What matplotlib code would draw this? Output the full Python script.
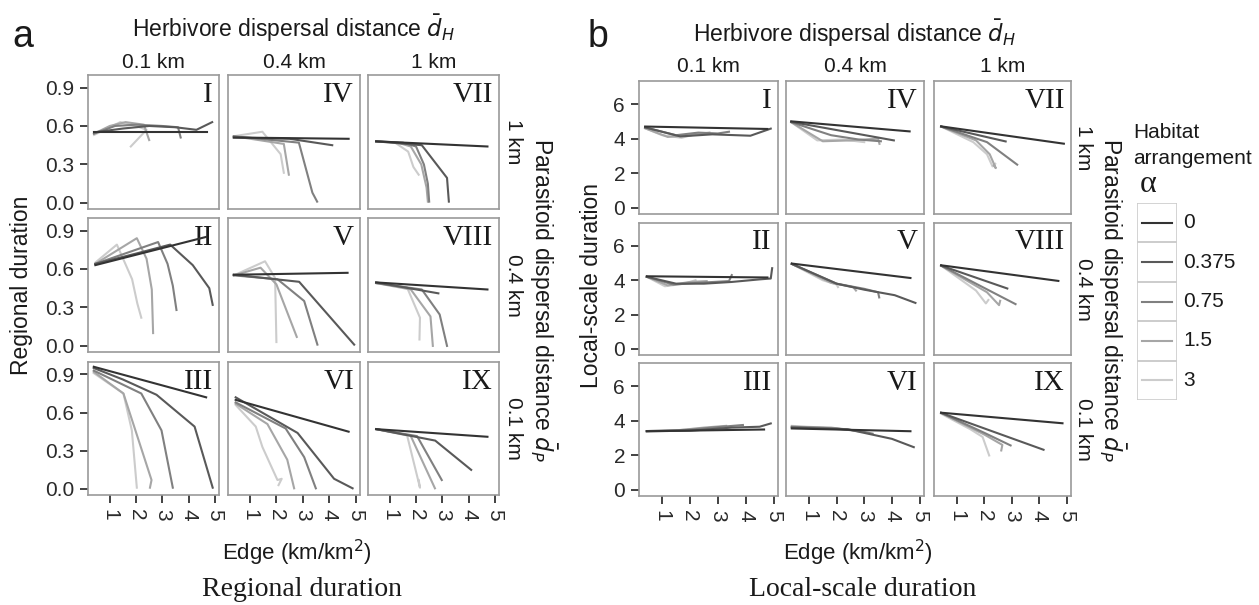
import matplotlib
matplotlib.use("Agg")
import matplotlib.pyplot as plt
from matplotlib.patches import Rectangle

# habitat arrangement levels and their grey shades
alpha_levels = ["0", "0.375", "0.75", "1.5", "3"]
alpha_colors = ["#333333", "#595959", "#808080", "#a6a6a6", "#cccccc"]

herb_labels = ["0.1 km", "0.4 km", "1 km"]
para_labels = ["1 km", "0.4 km", "0.1 km"]
numerals = ["I", "II", "III", "IV", "V", "VI", "VII", "VIII", "IX"]

# ---- regional duration (panel a); one list per alpha level ----
reg_I_x = [[0.4, 4.7], [0.4, 1.5, 2.5, 3.5, 4.3, 4.9], [0.4, 1.2, 2.0, 3.0, 3.6, 3.7],
           [0.4, 1.0, 1.6, 2.3, 2.5], [0.4, 1.4, 2.0, 2.4, 1.8]]
reg_I_y = [[0.55, 0.55], [0.55, 0.58, 0.60, 0.59, 0.57, 0.63], [0.54, 0.60, 0.61, 0.60, 0.59, 0.51],
           [0.54, 0.60, 0.63, 0.61, 0.49], [0.53, 0.63, 0.60, 0.57, 0.44]]
reg_II_x = [[0.45, 4.67], [0.45, 2.0, 3.3, 4.16, 4.79, 4.92], [0.45, 2.84, 3.2, 3.4, 3.54],
            [0.45, 2.03, 2.4, 2.6, 2.65], [0.45, 1.27, 1.85, 2.05, 2.2]]
reg_II_y = [[0.63, 0.85], [0.64, 0.72, 0.79, 0.63, 0.45, 0.32], [0.64, 0.81, 0.64, 0.47, 0.28],
            [0.64, 0.84, 0.68, 0.44, 0.10], [0.65, 0.79, 0.52, 0.33, 0.22]]
reg_III_x = [[0.39, 4.67], [0.39, 1.5, 2.78, 4.23, 4.92], [0.39, 2.2, 2.97, 3.4],
             [0.39, 1.52, 2.59, 2.53], [0.39, 1.52, 1.84, 2.03]]
reg_III_y = [[0.96, 0.72], [0.95, 0.86, 0.74, 0.49, 0.01], [0.93, 0.75, 0.46, 0.01],
             [0.92, 0.75, 0.07, 0.01], [0.91, 0.75, 0.46, 0.01]]
reg_IV_x = [[0.39, 4.73], [0.39, 2.5, 4.11], [0.39, 2.85, 3.36, 3.54],
            [0.39, 2.28, 2.47], [0.39, 1.47, 2.16, 2.28]]
reg_IV_y = [[0.51, 0.50], [0.51, 0.50, 0.45], [0.52, 0.47, 0.08, 0.01],
            [0.52, 0.46, 0.22], [0.52, 0.555, 0.38, 0.235]]
reg_V_x = [[0.39, 4.69], [0.39, 2.86, 4.94], [0.39, 2.04, 3.05, 3.55],
           [0.39, 1.4, 2.0, 2.77], [0.39, 1.57, 1.95, 2.0]]
reg_V_y = [[0.555, 0.57], [0.555, 0.50, 0.01], [0.55, 0.52, 0.35, 0.01],
           [0.55, 0.61, 0.48, 0.07], [0.55, 0.66, 0.53, 0.03]]
reg_VI_x = [[0.46, 4.73], [0.46, 2.8, 4.18, 4.88], [0.46, 2.35, 3.05, 3.49],
            [0.46, 1.66, 2.41, 2.67], [0.46, 1.22, 1.47, 2.04, 2.2, 2.08]]
reg_VI_y = [[0.70, 0.45], [0.72, 0.44, 0.08, 0.005], [0.68, 0.475, 0.25, 0.005],
            [0.67, 0.51, 0.23, 0.005], [0.66, 0.49, 0.33, 0.07, 0.08, 0.03]]
reg_VII_x = [[0.48, 4.72], [0.48, 2.22, 3.18, 3.25], [0.48, 1.5, 2.0, 2.3, 2.45, 2.5],
             [0.48, 1.3, 1.8, 2.2, 2.4, 2.45], [0.48, 1.2, 1.7, 1.9, 2.1]]
reg_VII_y = [[0.48, 0.44], [0.48, 0.45, 0.195, 0.01], [0.48, 0.47, 0.44, 0.30, 0.15, 0.01],
             [0.48, 0.47, 0.44, 0.30, 0.12, 0.01], [0.48, 0.47, 0.40, 0.28, 0.22]]
reg_VIII_x = [[0.48, 4.72], [0.48, 2.85], [0.48, 2.22, 2.9, 3.18],
              [0.48, 1.8, 2.55, 2.64], [0.48, 1.66, 2.15, 2.13]]
reg_VIII_y = [[0.495, 0.44], [0.495, 0.41], [0.49, 0.44, 0.245, 0.0],
              [0.49, 0.44, 0.23, 0.0], [0.49, 0.455, 0.22, 0.05]]
reg_IX_x = [[0.48, 4.72], [0.48, 2.73, 4.1], [0.48, 2.04, 2.98],
            [0.48, 1.79, 2.72], [0.48, 1.66, 2.15, 2.1]]
reg_IX_y = [[0.47, 0.41], [0.47, 0.38, 0.15], [0.47, 0.415, 0.07],
            [0.47, 0.42, 0.005], [0.47, 0.42, 0.01, 0.07]]

# ---- local-scale duration (panel b) ----
loc_I_x = [[0.39, 4.78], [0.39, 1.65, 2.8, 4.17, 4.9], [0.39, 1.5, 2.3, 3.0, 3.4],
           [0.39, 1.2, 2.0, 2.7], [0.39, 1.0, 1.7, 2.3]]
loc_I_y = [[4.7, 4.56], [4.65, 4.13, 4.25, 4.17, 4.58], [4.65, 4.2, 4.35, 4.3, 4.4],
           [4.6, 4.1, 4.2, 4.35], [4.6, 4.2, 4.05, 4.3]]
loc_II_x = [[0.45, 4.78], [0.45, 1.5, 2.5, 3.5, 4.5, 4.9, 4.95], [0.45, 1.4, 2.3, 3.4, 3.5],
            [0.45, 1.2, 2.0, 2.6], [0.45, 1.1, 1.8, 2.2]]
loc_II_y = [[4.23, 4.16], [4.2, 3.8, 3.8, 3.9, 4.05, 4.1, 4.7], [4.2, 3.75, 3.85, 3.95, 4.3],
            [4.2, 3.7, 3.9, 3.95], [4.2, 3.65, 3.8, 4.0]]
loc_III_x = [[0.45, 4.66], [0.45, 2.0, 3.5, 4.5, 4.9], [0.45, 1.8, 2.8, 3.9],
             [0.45, 1.6, 2.5, 3.3], [0.45, 1.2, 1.9, 2.4]]
loc_III_y = [[3.39, 3.49], [3.39, 3.42, 3.6, 3.65, 3.84], [3.4, 3.45, 3.6, 3.75],
             [3.4, 3.45, 3.6, 3.7], [3.4, 3.4, 3.5, 3.55]]
loc_IV_x = [[0.36, 4.64], [0.36, 4.07], [0.36, 1.8, 2.8, 3.6],
            [0.36, 1.5, 2.5, 3.5, 3.55], [0.36, 1.3, 2.2, 3.0]]
loc_IV_y = [[5.0, 4.42], [4.97, 3.9], [4.95, 4.2, 3.95, 3.85],
            [4.95, 3.85, 3.9, 4.0, 3.7], [4.95, 3.9, 3.95, 3.8]]
loc_V_x = [[0.38, 4.67], [0.38, 2.0, 3.0, 4.1, 4.85], [0.38, 2.0, 3.0, 3.5, 3.54],
           [0.38, 1.8, 2.6, 2.7], [0.38, 1.5, 2.0, 2.05]]
loc_V_y = [[4.97, 4.13], [4.95, 3.8, 3.45, 3.13, 2.68], [4.95, 3.8, 3.5, 3.3, 3.0],
           [4.95, 3.85, 3.6, 3.4], [4.95, 4.0, 3.75, 3.6]]
loc_VI_x = [[0.38, 4.67], [0.38, 2.4, 4.0, 4.79], [0.38, 2.0, 3.0, 3.3],
            [0.38, 1.8, 2.6, 2.9], [0.38, 1.5, 2.3, 2.6]]
loc_VI_y = [[3.55, 3.39], [3.6, 3.5, 2.95, 2.47], [3.65, 3.55, 3.35, 3.25],
            [3.65, 3.6, 3.45, 3.4], [3.7, 3.6, 3.5, 3.45]]
loc_VII_x = [[0.43, 4.9], [0.43, 2.78], [0.43, 2.1, 3.2],
             [0.43, 1.7, 2.2, 2.42, 2.35], [0.43, 1.6, 2.1, 2.3, 2.4]]
loc_VII_y = [[4.71, 3.71], [4.7, 3.84], [4.7, 3.8, 2.5],
             [4.7, 3.9, 3.1, 2.3, 2.45], [4.7, 3.8, 3.1, 2.4, 2.55]]
loc_VIII_x = [[0.43, 4.7], [0.43, 2.84], [0.43, 3.14],
              [0.43, 2.1, 2.54, 2.58], [0.43, 1.7, 2.06, 2.15]]
loc_VIII_y = [[4.87, 3.96], [4.85, 3.52], [4.85, 2.61],
              [4.85, 3.3, 2.55, 2.8], [4.85, 3.4, 2.65, 2.85]]
loc_IX_x = [[0.43, 4.85], [0.43, 4.16], [0.43, 2.0, 2.96],
            [0.43, 2.0, 2.66, 2.62], [0.43, 1.5, 1.94, 2.18]]
loc_IX_y = [[4.46, 3.85], [4.45, 2.32], [4.45, 3.3, 2.57],
            [4.45, 3.2, 2.6, 2.28], [4.4, 3.5, 3.06, 1.99]]

reg_x = [reg_I_x, reg_II_x, reg_III_x, reg_IV_x, reg_V_x, reg_VI_x, reg_VII_x, reg_VIII_x, reg_IX_x]
reg_y = [reg_I_y, reg_II_y, reg_III_y, reg_IV_y, reg_V_y, reg_VI_y, reg_VII_y, reg_VIII_y, reg_IX_y]
loc_x = [loc_I_x, loc_II_x, loc_III_x, loc_IV_x, loc_V_x, loc_VI_x, loc_VII_x, loc_VIII_x, loc_IX_x]
loc_y = [loc_I_y, loc_II_y, loc_III_y, loc_IV_y, loc_V_y, loc_VI_y, loc_VII_y, loc_VIII_y, loc_IX_y]

W, H = 1259, 605
SANS = "Liberation Sans"
SERIF = "Liberation Serif"
plt.rcParams["font.family"] = SANS
fig = plt.figure(figsize=(W / 100, H / 100), dpi=100)
TXT = "#1a1a1a"


def box(l, t, r, b):
    return [l / W, 1 - b / H, (r - l) / W, (b - t) / H]


def ftext(x, y, s, **kw):
    fig.text(x / W, 1 - y / H, s, **kw)


def draw_panel(cols, rows, xs, ys, ylim, yticks, yticklabels):
    for k in range(9):
        c, r = k // 3, k % 3
        ax = fig.add_axes(box(cols[c][0], rows[r][0], cols[c][1], rows[r][1]))
        for i in range(5):
            ax.plot(xs[k][i], ys[k][i], color=alpha_colors[i], lw=1.5,
                    solid_joinstyle="round", zorder=6 - i)
        ax.set_xlim(0.17, 5.16)
        ax.set_ylim(*ylim)
        for s in ax.spines.values():
            s.set_color("#9a9a9a")
            s.set_linewidth(1.2)
        ax.tick_params(length=6, width=1.3, color="#333333", labelsize=15,
                       labelcolor="#2a2a2a", pad=4)
        ax.set_xticks([1, 2, 3, 4, 5])
        ax.set_yticks(yticks)
        if c == 0:
            ax.set_yticklabels(yticklabels)
        else:
            ax.tick_params(axis="y", left=False, labelleft=False)
        if r == 2:
            ax.set_xticklabels(["1", "2", "3", "4", "5"], rotation=-90)
        else:
            ax.tick_params(axis="x", bottom=False, labelbottom=False)
        ax.text(0.955, 0.80, numerals[k], transform=ax.transAxes, ha="right",
                va="baseline", fontsize=21, family=SERIF, color=TXT)


# panel a
cols_a = [(88, 219), (228, 360), (368, 499)]
rows_a = [(75, 209), (218, 352), (362, 495)]
draw_panel(cols_a, rows_a, reg_x, reg_y, (-0.0475, 0.9975),
           [0, 0.3, 0.6, 0.9], ["0.0", "0.3", "0.6", "0.9"])

# panel b
cols_b = [(639, 778), (786, 924), (934, 1071)]
rows_b = [(81, 214), (223, 355), (363, 496)]
draw_panel(cols_b, rows_b, loc_x, loc_y, (-0.35, 7.33),
           [0, 2, 4, 6], ["0", "2", "4", "6"])

# facet strips and axis titles
for cols, rows, ytop, xr, xo, cx, ylab, ylx, cap in [
        (cols_a, rows_a, 62, 513, 543, 294, "Regional duration", 22, "Regional duration"),
        (cols_b, rows_b, 67, 1083, 1112, 855, "Local-scale duration", 591, "Local-scale duration")]:
    for c in range(3):
        ftext((cols[c][0] + cols[c][1]) / 2, ytop, herb_labels[c], ha="center", va="center",
              fontsize=15, color=TXT)
    for r in range(3):
        ftext(xr, (rows[r][0] + rows[r][1]) / 2, para_labels[r], ha="center", va="center",
              rotation=-90, fontsize=15, color=TXT)
    ftext(cx, ytop - 34, r"Herbivore dispersal distance $\bar{d}_H$", ha="center",
          va="center", fontsize=16.5, color=TXT)
    ftext(xo, 300, r"Parasitoid dispersal distance $\bar{d}_P$", ha="center", va="center",
          rotation=-90, fontsize=16.5, color=TXT)
    ftext(ylx, 285, ylab, ha="center", va="center", rotation=90, fontsize=16.5, color=TXT)
    ftext(cx + 3, 553, r"Edge (km/km$^2$)", ha="center", va="center", fontsize=16,
          color=TXT)
    ftext(cx + 8, 590, cap, ha="center", va="center", fontsize=20, family=SERIF,
          color=TXT)

ftext(12, 47, "a", fontsize=27, va="baseline", color=TXT)
ftext(588, 47, "b", fontsize=27, va="baseline", color=TXT)

# legend
ftext(1133, 132, "Habitat", fontsize=15, va="center", color=TXT)
ftext(1133, 158, "arrangement", fontsize=15, va="center", color=TXT)
ftext(1140, 185, "α", fontsize=23, va="center", family=SERIF, color=TXT)
lax = fig.add_axes(box(1137, 203, 1177, 400))
lax.set_xlim(0, 1)
lax.set_ylim(0, 5)
lax.axis("off")
for i, (lab, col) in enumerate(zip(alpha_levels, alpha_colors)):
    yc = 4.5 - i
    lax.add_patch(Rectangle((0, yc - 0.5), 1, 1, fill=False, ec="#cccccc", lw=1.2))
    lax.plot([0.12, 0.88], [yc, yc], color=col, lw=1.5)
    lax.text(1.15, yc, lab, ha="left", va="center", fontsize=15, color=TXT)

fig.savefig("out.png", dpi=100, facecolor="white")
